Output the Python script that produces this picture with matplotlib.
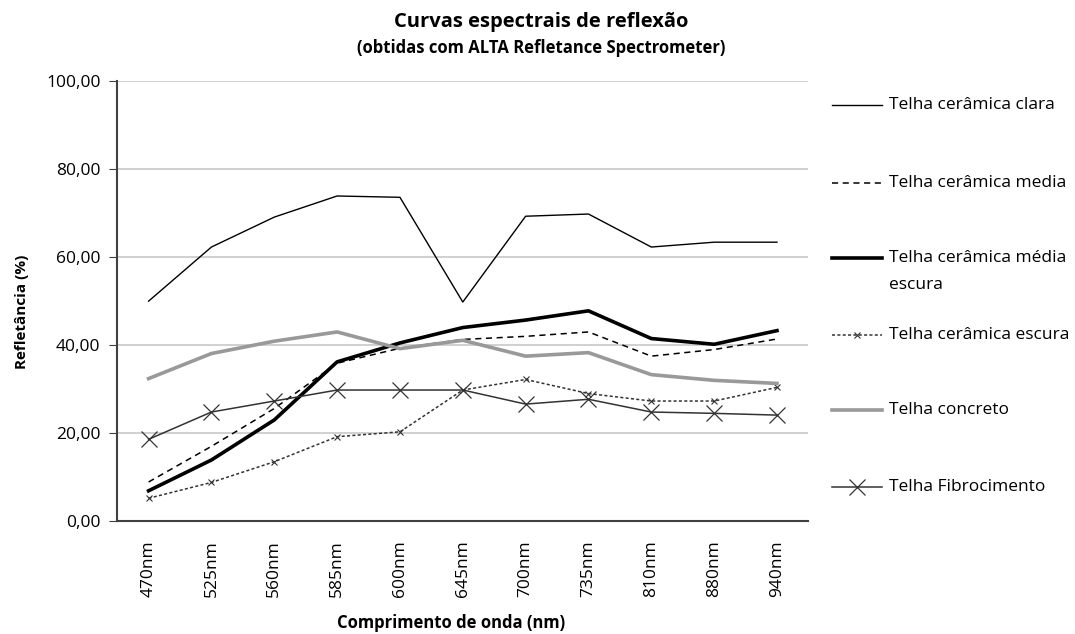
import matplotlib
matplotlib.use('Agg')
import matplotlib.pyplot as plt
from matplotlib.lines import Line2D
from matplotlib.ticker import FuncFormatter

plt.rcParams['font.family'] = ['Open Sans', 'DejaVu Sans']

# dados
comprimentos = ['470nm', '525nm', '560nm', '585nm', '600nm', '645nm',
                '700nm', '735nm', '810nm', '880nm', '940nm']
ceramica_clara = [50.0, 62.3, 69.1, 73.9, 73.6, 49.8, 69.3, 69.8, 62.3, 63.4, 63.4]
ceramica_media = [8.9, 17.0, 25.6, 35.9, 39.3, 41.3, 42.0, 43.0, 37.5, 39.0, 41.4]
ceramica_media_escura = [6.9, 13.9, 23.0, 36.2, 40.5, 44.0, 45.7, 47.8, 41.5, 40.2, 43.3]
ceramica_escura = [5.2, 8.8, 13.5, 19.2, 20.3, 29.8, 32.2, 29.0, 27.3, 27.3, 30.4]
concreto = [32.4, 38.1, 40.9, 43.0, 39.2, 41.1, 37.5, 38.3, 33.3, 32.0, 31.3]
fibrocimento = [18.6, 24.8, 27.3, 29.8, 29.8, 29.8, 26.6, 27.7, 24.8, 24.5, 24.1]

series = [
    ('Telha cerâmica clara', ceramica_clara,
     dict(color='black', lw=1.0, ls='-')),
    ('Telha cerâmica media', ceramica_media,
     dict(color='black', lw=1.1, ls=(0, (4, 3)))),
    ('Telha cerâmica média\nescura', ceramica_media_escura,
     dict(color='black', lw=2.6, ls='-')),
    ('Telha cerâmica escura', ceramica_escura,
     dict(color='#333333', lw=1.1, ls=(0, (2, 1.5)), marker='x', ms=5, mew=0.8)),
    ('Telha concreto', concreto,
     dict(color='#999999', lw=2.6, ls='-')),
    ('Telha Fibrocimento', fibrocimento,
     dict(color='#333333', lw=1.1, ls='-', marker='x', ms=11, mew=0.9)),
]

fig = plt.figure(figsize=(10.75, 6.34), dpi=100)
ax = fig.add_axes([0.109, 0.178, 0.643, 0.694])

x = list(range(len(comprimentos)))
for nome, valores, estilo in series:
    ax.plot(x, valores, **estilo)

ax.set_xlim(-0.5, len(comprimentos) - 0.5)
ax.set_ylim(0, 100)
ax.set_yticks([0, 20, 40, 60, 80, 100])
ax.yaxis.set_major_formatter(FuncFormatter(lambda v, p: f'{v:.2f}'.replace('.', ',')))
ax.set_xticks(x)
ax.set_xticklabels(comprimentos, rotation=90, fontsize=12.5)
ax.tick_params(axis='x', length=0, pad=14)
ax.tick_params(axis='y', length=6, color='#404040', labelsize=12.5, pad=6)
ax.grid(axis='y', color='#c8c8c8', lw=1.2)
ax.set_axisbelow(True)
for lado in ['top', 'right']:
    ax.spines[lado].set_visible(False)
for lado in ['left', 'bottom']:
    ax.spines[lado].set_color('#404040')
    ax.spines[lado].set_linewidth(1.5)

ax.set_ylabel('Refletância (%)', fontsize=11, fontweight='bold')
ax.yaxis.set_label_coords(-0.128, 0.475)
ax.set_xlabel('Comprimento de onda (nm)', fontsize=12, fontweight='bold')
ax.xaxis.set_label_coords(0.483, -0.212)

fig.text(0.503, 0.965, 'Curvas espectrais de reflexão', ha='center', va='center',
         fontsize=14.5, fontweight='bold')
fig.text(0.503, 0.924, '(obtidas com ALTA Refletance Spectrometer)', ha='center',
         va='center', fontsize=12, fontweight='bold')

# legenda desenhada à mão para imitar o espaçamento original
leg_y = [105, 183, 258, 335, 410, 487]
for (nome, valores, estilo), yp in zip(series, leg_y):
    yf = 1 - yp / 634
    est = dict(estilo)
    if 'marker' in est:
        est['markevery'] = [1]
        lx = [832 / 1075, 857 / 1075, 882 / 1075]
        ly = [yf, yf, yf]
    else:
        lx = [832 / 1075, 882 / 1075]
        ly = [yf, yf]
    fig.add_artist(Line2D(lx, ly, transform=fig.transFigure, **est))
    for i, linha in enumerate(nome.split('\n')):
        fig.text(889 / 1075, yf - i * 27 / 634, linha, ha='left', va='center',
                 fontsize=12.5)

fig.savefig('out.png', dpi=100)
